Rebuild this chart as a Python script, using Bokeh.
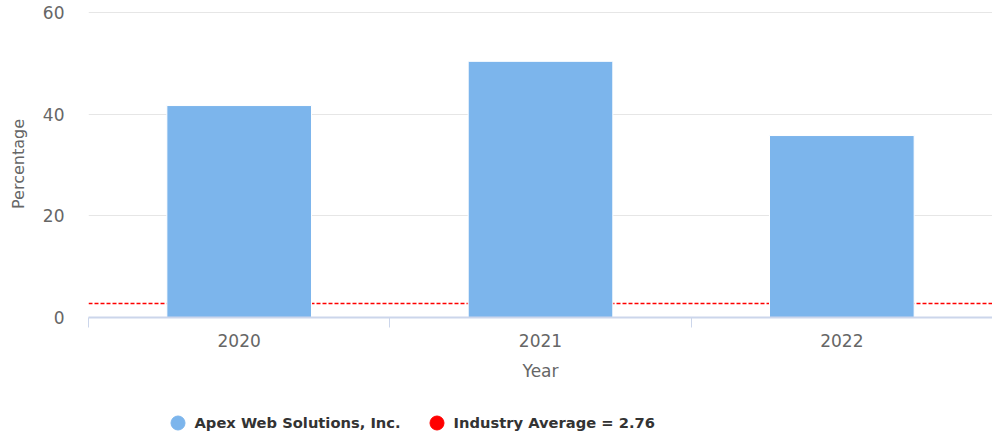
from bokeh.plotting import figure
from bokeh.models import Range1d, FixedTicker, Legend, LegendItem, ColumnDataSource
from bokeh.layouts import column
from bokeh.embed import file_html
from bokeh.resources import INLINE

years = ["2020", "2021", "2022"]
values = [41.7, 50.4, 35.8]
industry_avg = 2.76
company = "Apex Web Solutions, Inc."
y_ticks = [0, 20, 40, 60]

centers = [i + 0.5 for i in range(len(years))]
bounds = list(range(len(years) + 1))

FONT = "DejaVu Sans"
GREY = "#666666"

p = figure(width=992, height=395, output_backend="svg", toolbar_location=None,
           x_range=Range1d(bounds[0], bounds[-1]), y_range=Range1d(0, 60.4),
           min_border_left=88, min_border_right=0, min_border_top=10, min_border_bottom=78)
p.outline_line_color = None

# industry average line (behind bars)
p.line(x=[bounds[0], bounds[-1]], y=[industry_avg, industry_avg],
       line_color="#ff0000", line_width=1.5, line_dash="4 2")

src = ColumnDataSource(dict(x=centers, top=values, year=years))
p.vbar(x="x", top="top", width=0.48, source=src, fill_color="#7cb5ec",
       line_color="white", line_width=1)

# x axis
xa = p.xaxis[0]
xa.ticker = FixedTicker(ticks=centers, minor_ticks=bounds)
xa.major_label_overrides = {c: y for c, y in zip(centers, years)}
xa.major_tick_line_color = None
xa.major_tick_out = 0
xa.major_tick_in = 0
xa.minor_tick_line_color = "#ccd6eb"
xa.minor_tick_in = 0
xa.minor_tick_out = 10
xa.axis_line_color = "#ccd6eb"
xa.axis_line_width = 2
xa.major_label_text_font = FONT
xa.major_label_text_font_size = "17px"
xa.major_label_text_color = GREY
xa.major_label_standoff = 6
xa.axis_label = "Year"
xa.axis_label_text_font = FONT
xa.axis_label_text_font_size = "17px"
xa.axis_label_text_font_style = "normal"
xa.axis_label_text_color = GREY
xa.axis_label_standoff = 11

# y axis
ya = p.yaxis[0]
ya.ticker = FixedTicker(ticks=y_ticks)
ya.axis_line_color = None
ya.major_tick_line_color = None
ya.major_tick_out = 0
ya.minor_tick_line_color = None
ya.major_label_text_font = FONT
ya.major_label_text_font_size = "17px"
ya.major_label_text_color = GREY
ya.major_label_standoff = 24
ya.axis_label = "Percentage"
ya.axis_label_text_font = FONT
ya.axis_label_text_font_size = "16px"
ya.axis_label_text_font_style = "normal"
ya.axis_label_text_color = GREY
ya.axis_label_standoff = 12

p.xgrid.grid_line_color = None
p.ygrid.ticker = FixedTicker(ticks=y_ticks)
p.ygrid.grid_line_color = "#e6e6e6"
p.ygrid.grid_line_width = 1

# legend figure
lf = figure(width=992, height=39, output_backend="svg", toolbar_location=None,
            x_range=Range1d(0, 1), y_range=Range1d(0, 1),
            x_axis_location=None, y_axis_location=None,
            min_border_left=0, min_border_right=0, min_border_top=0, min_border_bottom=0)
lf.outline_line_color = None
lf.xgrid.grid_line_color = None
lf.ygrid.grid_line_color = None
leg_a = lf.scatter(x=[-10], y=[-10], size=14, marker="circle",
                   fill_color="#7cb5ec", line_color="#7cb5ec")
leg_b = lf.scatter(x=[-10], y=[-10], size=14, marker="circle",
                   fill_color="#ff0000", line_color="#ff0000")

legend = Legend(items=[LegendItem(label=company, renderers=[leg_a]),
                       LegendItem(label=f"Industry Average = {industry_avg}", renderers=[leg_b])],
                orientation="horizontal", location=(71.5, -5.5), border_line_alpha=0,
                background_fill_alpha=0, label_text_font=FONT, label_text_font_style="bold",
                label_text_font_size="14.7px", label_text_color="#333333",
                glyph_width=35, glyph_height=35, spacing=18, padding=0, margin=0,
                label_standoff=0)
lf.add_layout(legend, "center")

layout = column(p, lf, spacing=0)
open("out.html", "w").write(file_html(layout, INLINE))
